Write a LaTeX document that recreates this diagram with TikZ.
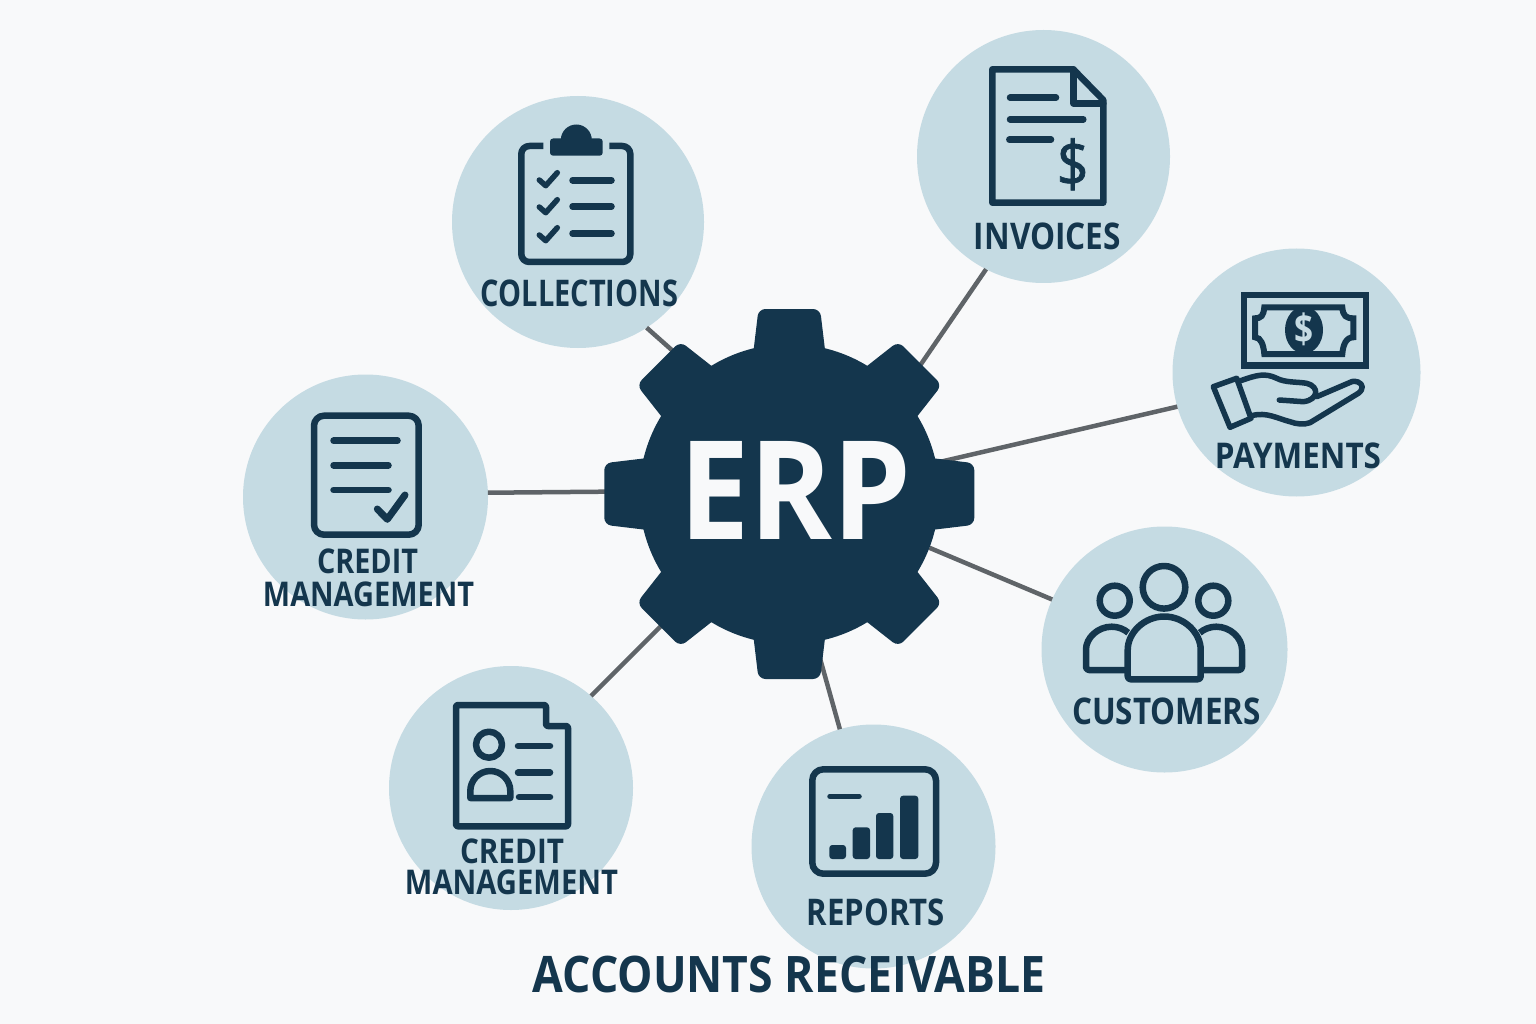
\documentclass[tikz,border=0pt]{standalone}
\usepackage{fontspec}
\usepackage{graphicx}
\setmainfont{Open Sans}
\definecolor{bgc}{HTML}{F8F9FA}
\definecolor{disc}{HTML}{C5DBE3}
\definecolor{ink}{HTML}{14364D}
\definecolor{linkc}{HTML}{5F6468}
\newcommand{\fitlab}[3]{\resizebox*{#1pt}{#2pt}{\bfseries #3}}
\newcommand{\fitdollar}[2]{\resizebox*{#1pt}{#2pt}{\addfontfeature{FakeBold=1.2}\$}}
\tikzset{
  disk/.style={circle,fill=disc,inner sep=0pt,outer sep=0pt,minimum size=#1},
  link/.style={draw=linkc,line width=4.5pt},
  lab/.style={inner sep=0pt,outer sep=0pt,text=ink},
  icon/.style={draw=ink,line width=6.5pt,line cap=round,line join=round},
  bar/.style={draw=ink,line width=6.5pt,line cap=round},
}
\begin{document}
\begin{tikzpicture}[x=1pt,y=-1pt]
\fill[bgc] (0,0) rectangle (1536,1024);
\useasboundingbox (0,0) rectangle (1536,1024);
% discs
\node[disk=252pt] (coll) at (578,222) {};
\node[disk=253pt] (inv) at (1043.5,156.5) {};
\node[disk=248pt] (pay) at (1296.5,372.5) {};
\node[disk=246pt] (cust) at (1164.5,649.5) {};
\node[disk=244pt] (rep) at (873.5,846.5) {};
\node[disk=244pt] (cred) at (511,788) {};
\node[disk=245pt] (credm) at (365.5,497) {};
\node[circle,inner sep=0pt,outer sep=0pt,minimum size=300pt] (gear) at (789.3,494) {};
% connectors
\draw[link] (coll.-57.7) -- (gear.127.5);
\draw[link] (inv.-117) -- (gear.42.2);
\draw[link] (pay.196.5) -- (gear.12.4);
\draw[link] (cust.156.4) -- (gear.-21.7);
\draw[link] (rep.106.8) -- (gear.-80.7);
\draw[link] (cred.49) -- (gear.-134.7);
\draw[link] (credm.2.3) -- (gear.179.2);
% gear
\fill[ink] (gear.center) circle[radius=150pt];
\foreach \a in {0,45,...,315}{
  \fill[ink,rounded corners=7pt,shift={(gear.center)},rotate=\a]
    (-38.6,120) -- (-30.8,185) -- (30.8,185) -- (38.6,120) -- cycle;
}
\node[inner sep=0pt,outer sep=0pt,text=bgc] (erp) at (795.5,490.3) {\fitlab{232}{98}{ERP}};
% Collections icon
\draw[icon,rounded corners=8pt,line cap=butt] (543.3,146) -- (521.3,146) -- (521.3,262) -- (630.3,262) -- (630.3,146) -- (609.3,146);
\fill[ink,rounded corners=3pt] (550,138.5) rectangle (602.7,155.7);
\fill[ink] (560.8,140) arc[start angle=180,end angle=0,radius=15.5pt] -- cycle;
\foreach \d in {0,27,55}{
  \draw[icon,line width=5.5pt] (539.3,180+\d) -- (545.7,185.7+\d) -- (557.3,172.7+\d);
  \draw[bar] (572.5,180.3+\d*0.97) -- (611.5,180.3+\d*0.97);
}
\node[lab] (lcoll) at (579.5,293) {\fitlab{197}{27}{COLLECTIONS}};
% Invoices icon
\draw[icon] (992.3,75) -- (992.3,202.7) -- (1103.3,202.7) -- (1103.3,100) -- (1073.3,69.3) -- (992.3,69.3) -- cycle;
\draw[icon] (1073.3,69.3) -- (1073.3,103.3) -- (1103.3,103.3);
\draw[bar] (1010,97.7) -- (1056,97.7);
\draw[bar] (1010,119.3) -- (1083.3,119.3);
\draw[bar] (1009.3,139.7) -- (1051,139.7);
\node[lab] (ldollar) at (1072.7,164.3) {\fitdollar{32}{52}};
\node[lab] (linv) at (1047.5,236) {\fitlab{147}{27}{INVOICES}};
% Payments icon
\draw[draw=ink,line width=6.5pt] (1244,295) rectangle (1366,365.7);
\draw[draw=ink,line width=6pt,line join=miter]
  (1264.3,307.3) -- (1342.3,307.3) .. controls (1343,316) and (1346,318.3) .. (1353.3,318.3)
  -- (1353.3,337.3) .. controls (1346,337.3) and (1343,345) .. (1342.3,354)
  -- (1264.3,354) .. controls (1263.5,345) and (1261,337.3) .. (1255,337.3)
  -- (1255,318.3) .. controls (1261,318.3) and (1263.5,316) .. (1264.3,307.3) -- cycle;
\fill[ink] (1304,330) ellipse[x radius=19pt,y radius=23.5pt];
\node[inner sep=0pt,outer sep=0pt,text=disc] (ldollarb) at (1304,329) {\fitlab{19}{33}{\$}};
\draw[icon,line width=5.5pt] (1213.3,386.7) -- (1236.7,378.3) -- (1251,418.3) -- (1230,427.3) -- cycle;
\draw[icon,line width=5.5pt] (1240.7,380.7) .. controls (1256.7,375) and (1265,372.7) .. (1276.7,378.3)
  .. controls (1285,382.7) and (1296.7,381.7) .. (1306.7,383.3)
  .. controls (1320,386.7) and (1318.3,400) .. (1303.3,401.7) -- (1279.3,400);
\draw[icon,line width=5.5pt] (1251.7,415.7) .. controls (1266.7,411.7) and (1276.7,418.3) .. (1290,421.7)
  .. controls (1296,424) and (1304,425) .. (1310,422.7) -- (1358.3,393.3)
  .. controls (1364,389) and (1363,384) .. (1358,382) .. controls (1355,381) and (1353,381) .. (1351.7,381.7) -- (1316.7,396.7);
\node[lab] (lpay) at (1298,456) {\fitlab{166}{26}{PAYMENTS}};
% Customers icon
\draw[icon] (1164,587.3) circle[radius=21.3pt];
\draw[icon] (1114.7,600.7) circle[radius=15pt];
\draw[icon] (1213.3,600.7) circle[radius=15pt];
\draw[icon,rounded corners=3pt] (1127.7,679.3) -- (1127.7,653) arc[start angle=180,end angle=0,radius=36.5pt] -- (1200.7,679.3) -- cycle;
\draw[icon,line cap=butt,rounded corners=3pt] (1127.7,670) -- (1086,670) -- (1086,652.4) arc[start angle=180,end angle=50,radius=25.7pt];
\draw[icon,line cap=butt,rounded corners=3pt] (1200.7,670) -- (1242,670) -- (1242,652.4) arc[start angle=0,end angle=130,radius=25.7pt];
\node[lab] (lcust) at (1166.5,711) {\fitlab{189}{27}{CUSTOMERS}};
% Reports icon
\draw[icon,line width=6.5pt,rounded corners=11pt] (812.3,769.3) rectangle (936,873.7);
\draw[bar,line width=5.5pt] (830,796.3) -- (859,796.3);
\fill[ink,rounded corners=3pt] (829.3,845) rectangle (846,859);
\fill[ink,rounded corners=3pt] (852.7,827.3) rectangle (870,859);
\fill[ink,rounded corners=3pt] (876,813) rectangle (893.3,859);
\fill[ink,rounded corners=3pt] (900,795.7) rectangle (918.3,859);
\node[lab] (lrep) at (876,912) {\fitlab{138}{27}{REPORTS}};
% Credit management (left) icon
\draw[icon,rounded corners=10pt] (314,415.7) rectangle (418.7,534.7);
\draw[bar] (333.5,440.7) -- (397.5,440.7);
\draw[bar] (333.5,465.3) -- (388.5,465.3);
\draw[bar] (333.5,490) -- (388.5,490);
\draw[icon,line width=7pt] (377.3,509) -- (387.3,519.3) -- (405,495);
\node[lab] (lcredit) at (367.5,561) {\fitlab{101}{25}{CREDIT}};
\node[lab] (lmgmt) at (368.5,594) {\fitlab{211}{25}{MANAGEMENT}};
% Credit management (bottom left) icon
\draw[icon,rounded corners=2pt] (456,705) -- (546,705) -- (546,726) -- (568,726) -- (568,826.3) -- (456,826.3) -- cycle;
\draw[icon] (489,744.7) circle[radius=13pt];
\draw[icon] (470.3,798) -- (470.3,791) arc[start angle=180,end angle=0,radius=20pt] -- (510.3,798) -- cycle;
\draw[bar] (518,746) -- (550,746);
\draw[bar] (518,772.7) -- (550,772.7);
\draw[bar] (519,797) -- (550,797);
\node[lab] (lcredit2) at (512,851) {\fitlab{104}{25}{CREDIT}};
\node[lab] (lmgmt2) at (511.5,882) {\fitlab{213}{25}{MANAGEMENT}};
% Title
\node[lab] (title) at (789,974) {\fitlab{512}{37}{ACCOUNTS RECEIVABLE}};
\end{tikzpicture}
\end{document}
